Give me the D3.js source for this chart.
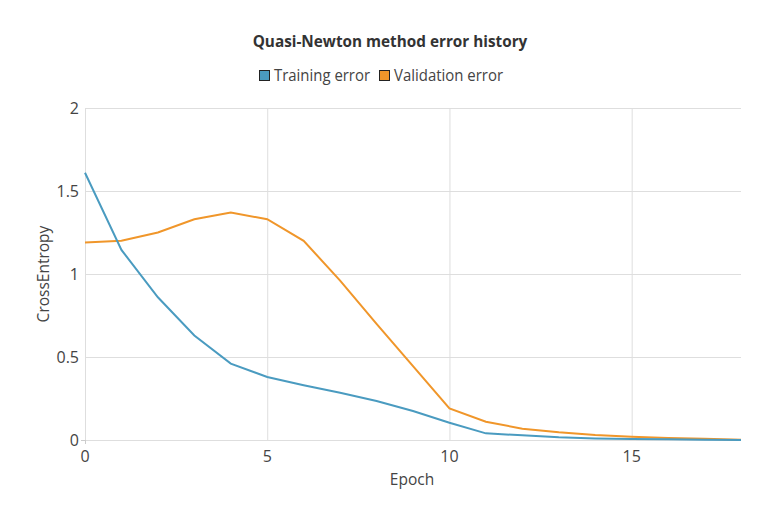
<!DOCTYPE html>
<html><head><meta charset="utf-8">
<script src="https://cdn.jsdelivr.net/npm/d3@7"></script>
<style>body{margin:0;background:#fff;font-family:"Open Sans","Noto Sans",sans-serif;}</style>
</head><body><svg id="c" width="780" height="520"></svg>
<script>
const epochs = [0,1,2,3,4,5,6,7,8,9,10,11,12,13,14,15,16,17,18];
const trainingError = [1.61,1.145,0.86,0.63,0.46,0.38,0.33,0.285,0.235,0.175,0.104,0.04,0.028,0.016,0.009,0.006,0.004,0.002,0.0];
const validationError = [1.19,1.20,1.25,1.33,1.37,1.33,1.20,0.96,0.70,0.445,0.19,0.11,0.068,0.046,0.03,0.02,0.012,0.008,0.002];
const xTicks = [0,5,10,15];
const yTicks = [0,0.5,1,1.5,2];
const seriesNames = ["Training error","Validation error"];
const colors = ["#4a9bc0","#f0962a"];

const svg = d3.select("#c");
const m = {l:85,r:39,t:108,b:80};
const W = 780, H = 520;
const x = d3.scaleLinear().domain([0,18]).range([m.l, W-m.r]);
const y = d3.scaleLinear().domain([0,2]).range([H-m.b, m.t]);

// grid
svg.append("g").selectAll("line").data(yTicks).join("line")
  .attr("x1",m.l).attr("x2",W-m.r).attr("y1",d=>y(d)+0.5).attr("y2",d=>y(d)+0.5)
  .attr("stroke","#dedede").attr("stroke-width",1);
svg.append("g").selectAll("line").data(xTicks).join("line")
  .attr("y1",m.t).attr("y2",H-m.b).attr("x1",d=>x(d)+0.5).attr("x2",d=>x(d)+0.5)
  .attr("stroke","#dedede").attr("stroke-width",1);
// origin ticks
svg.append("line").attr("x1",m.l-4).attr("x2",m.l).attr("y1",y(0)+0.5).attr("y2",y(0)+0.5).attr("stroke","#ccc");
svg.append("line").attr("x1",x(0)+0.5).attr("x2",x(0)+0.5).attr("y1",y(0)).attr("y2",y(0)+4).attr("stroke","#ccc");

// tick labels
svg.append("g").selectAll("text").data(yTicks).join("text")
  .attr("x",m.l-6).attr("y",d=>y(d)+6).attr("text-anchor","end")
  .attr("font-size",16).attr("fill","#444").text(d=>d3.format("")(d));
svg.append("g").selectAll("text").data(xTicks).join("text")
  .attr("x",d=>x(d)).attr("y",y(0)+22).attr("text-anchor","middle")
  .attr("font-size",16).attr("fill","#444").text(d=>d);

// axis titles
svg.append("text").attr("x",412).attr("y",485).attr("text-anchor","middle")
  .attr("font-size",15.5).attr("fill","#444").text("Epoch");
svg.append("text").attr("transform","translate(49,274) rotate(-90)").attr("text-anchor","middle")
  .attr("font-size",15.5).attr("fill","#444").text("CrossEntropy");

// lines
const line = d3.line().x((d,i)=>x(epochs[i])).y(d=>y(d));
[validationError, trainingError].forEach((s,k)=>{
  const ci = k===0?1:0;
  svg.append("path").datum(s).attr("d",line).attr("fill","none")
    .attr("stroke",colors[ci]).attr("stroke-width",2);
});

// title
svg.append("text").attr("x",390).attr("y",47).attr("text-anchor","middle")
  .attr("font-size",15.3).attr("font-weight","bold").attr("fill","#333")
  .text("Quasi-Newton method error history");

// legend
const lg = svg.append("g");
const items = [{x:259,w:96},{x:379,w:109}];
seriesNames.forEach((n,i)=>{
  lg.append("rect").attr("x",items[i].x+0.5).attr("y",70.5).attr("width",10).attr("height",10)
    .attr("fill",colors[i]).attr("stroke","#222").attr("stroke-width",1);
  lg.append("text").attr("x",items[i].x+15).attr("y",81).attr("font-size",16).attr("fill","#444")
    .attr("textLength",items[i].w).attr("lengthAdjust","spacingAndGlyphs").text(n);
});
</script></body></html>
